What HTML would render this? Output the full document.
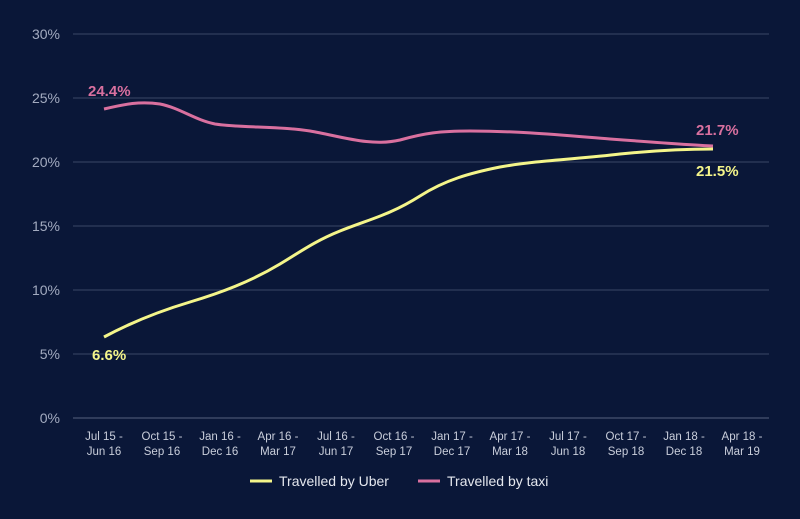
<!DOCTYPE html>
<html><head><style>
body{margin:0;background:#0a1738;}
svg{display:block;font-family:"Liberation Sans",sans-serif;}
</style></head><body>
<svg width="800" height="519" viewBox="0 0 800 519">
<rect width="800" height="519" fill="#0a1738"/>
<g stroke="#3a4766" stroke-width="1">
<line x1="73" x2="769" y1="34" y2="34"/><line x1="73" x2="769" y1="98" y2="98"/>
<line x1="73" x2="769" y1="162" y2="162"/><line x1="73" x2="769" y1="226" y2="226"/>
<line x1="73" x2="769" y1="290" y2="290"/><line x1="73" x2="769" y1="354" y2="354"/>
<line x1="73" x2="769" y1="418" y2="418" stroke="#56627e"/>
</g>
<g fill="#a3abc0" font-size="14" text-anchor="end">
<text x="60" y="39">30%</text><text x="60" y="103">25%</text><text x="60" y="167">20%</text>
<text x="60" y="231">15%</text><text x="60" y="295">10%</text><text x="60" y="359">5%</text><text x="60" y="423">0%</text>
</g>
<g fill="#c9cedb" font-size="11.5" text-anchor="middle">
<text x="104" y="440">Jul 15 -</text><text x="104" y="455">Jun 16</text>
<text x="162" y="440">Oct 15 -</text><text x="162" y="455">Sep 16</text>
<text x="220" y="440">Jan 16 -</text><text x="220" y="455">Dec 16</text>
<text x="278" y="440">Apr 16 -</text><text x="278" y="455">Mar 17</text>
<text x="336" y="440">Jul 16 -</text><text x="336" y="455">Jun 17</text>
<text x="394" y="440">Oct 16 -</text><text x="394" y="455">Sep 17</text>
<text x="452" y="440">Jan 17 -</text><text x="452" y="455">Dec 17</text>
<text x="510" y="440">Apr 17 -</text><text x="510" y="455">Mar 18</text>
<text x="568" y="440">Jul 17 -</text><text x="568" y="455">Jun 18</text>
<text x="626" y="440">Oct 17 -</text><text x="626" y="455">Sep 18</text>
<text x="684" y="440">Jan 18 -</text><text x="684" y="455">Dec 18</text>
<text x="742" y="440">Apr 18 -</text><text x="742" y="455">Mar 19</text>
</g>
<path d="M104,109 C125,104 140,101 160,104 C180,108 195,120 215,124 C240,128 280,126 310,131 C340,136 370,147 400,140 C425,133 440,131 470,131 C520,131 560,135 610,139 C650,142 690,145 713,146" fill="none" stroke="#d9709f" stroke-width="3"/>
<path d="M104,337 C130,323 160,311 190,302 C220,293 250,282 280,264 C300,252 315,241 340,231 C370,219 390,215 420,196 C445,180 470,173 500,167 C540,160 580,159 620,154 C660,150 690,149 713,149" fill="none" stroke="#f4f58a" stroke-width="3"/>
<g font-size="15" font-weight="bold">
<text x="88" y="96" fill="#d9709f">24.4%</text>
<text x="92" y="360" fill="#f4f58a">6.6%</text>
<text x="696" y="135" fill="#d9709f">21.7%</text>
<text x="696" y="176" fill="#f4f58a">21.5%</text>
</g>
<line x1="250" x2="272" y1="481" y2="481" stroke="#f4f58a" stroke-width="3"/>
<text x="279" y="486" fill="#e4e7ee" font-size="14">Travelled by Uber</text>
<line x1="418" x2="440" y1="481" y2="481" stroke="#d9709f" stroke-width="3"/>
<text x="447" y="486" fill="#e4e7ee" font-size="14">Travelled by taxi</text>
</svg>
</body></html>
